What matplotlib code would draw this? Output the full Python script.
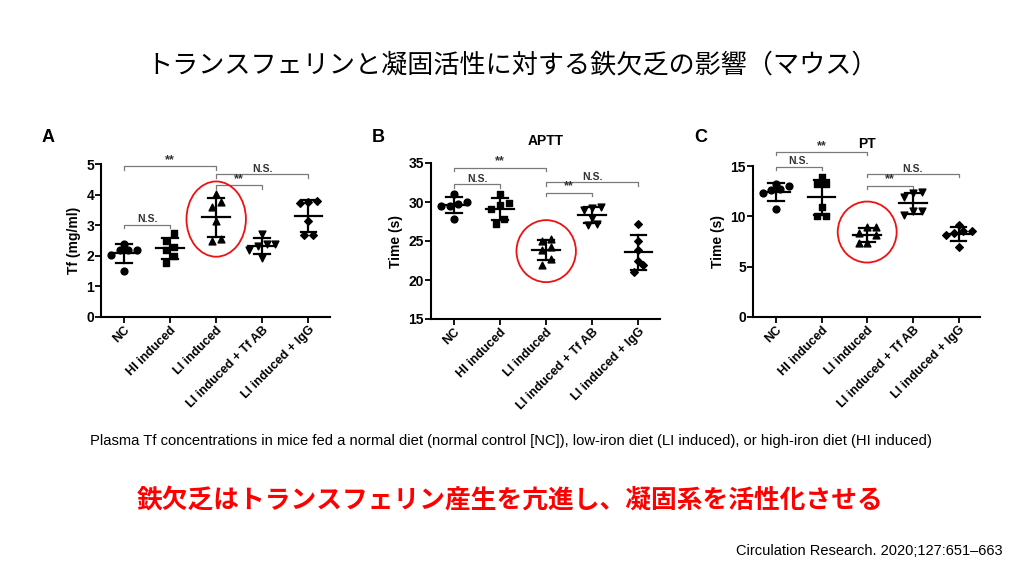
import matplotlib
matplotlib.use("Agg")
import matplotlib.pyplot as plt
import numpy as np
from matplotlib.patches import Ellipse

plt.rcParams['font.family'] = ['Liberation Sans', 'Noto Sans CJK JP', 'DejaVu Sans']

categories = ["NC", "HI induced", "LI induced", "LI induced + Tf AB", "LI induced + IgG"]
markers = ["o", "s", "^", "v", "D"]

tf_values = [
    [2.38, 2.2, 2.2, 2.2, 2.02, 1.5],
    [2.73, 2.5, 2.3, 2.2, 1.99, 1.78],
    [4.03, 3.76, 3.6, 3.13, 2.5, 2.54],
    [2.72, 2.38, 2.33, 2.38, 2.2, 1.93],
    [3.78, 3.77, 3.74, 3.15, 2.68, 2.68],
]
aptt_values = [
    [31.0, 30.0, 29.5, 29.5, 29.7, 27.8],
    [31.06, 29.66, 29.87, 29.15, 27.8, 27.15],
    [25.2, 24.26, 24.98, 23.83, 22.68, 21.9],
    [29.2, 29.0, 29.4, 28.0, 27.2, 27.0],
    [27.15, 25.0, 23.9, 22.47, 21.9, 20.98],
]
pt_values = [
    [13.2, 13.0, 12.7, 12.3, 12.6, 10.7],
    [13.95, 13.2, 13.2, 10.9, 10.05, 10.05],
    [8.95, 8.95, 8.3, 8.1, 7.4, 7.4],
    [12.3, 12.4, 11.9, 10.5, 10.5, 10.1],
    [9.1, 8.5, 8.5, 8.3, 8.1, 7.0],
]

# brackets: (i, j, y, label)
tf_brackets = [(0, 2, 4.92, "**"), (0, 1, 3.02, "N.S."), (2, 4, 4.66, "N.S."), (2, 3, 4.3, "**")]
aptt_brackets = [(0, 2, 34.38, "**"), (0, 1, 32.26, "N.S."), (2, 4, 32.55, "N.S."), (2, 3, 31.2, "**")]
pt_brackets = [(0, 2, 16.38, "**"), (0, 1, 14.93, "N.S."), (2, 4, 14.2, "N.S."), (2, 3, 13.03, "**")]

panels = [
    dict(vals=tf_values, ylim=(0, 5), yticks=[0, 1, 2, 3, 4, 5], ylabel="Tf (mg/ml)",
         br=tf_brackets, pos=[101, 164, 330, 317], letter="A", title=None,
         ell=(3.2, 2.46)),
    dict(vals=aptt_values, ylim=(15, 35), yticks=[15, 20, 25, 30, 35], ylabel="Time (s)",
         br=aptt_brackets, pos=[431, 163, 660, 319], letter="B", title="APTT",
         ell=(23.7, 7.95)),
    dict(vals=pt_values, ylim=(0, 15), yticks=[0, 5, 10, 15], ylabel="Time (s)",
         br=pt_brackets, pos=[753, 166, 980, 317], letter="C", title="PT",
         ell=(8.44, 6.06)),
]

W, H = 1024, 576
fig = plt.figure(figsize=(W / 100, H / 100), dpi=100)


def spread(vals, thr, step):
    vals = np.asarray(vals, float)
    order = np.argsort(vals)
    offs = np.zeros(len(vals))
    groups = []
    cur = [order[0]]
    for k in order[1:]:
        if vals[k] - vals[cur[0]] < thr:
            cur.append(k)
        else:
            groups.append(cur)
            cur = [k]
    groups.append(cur)
    for g in groups:
        n = len(g)
        for i, k in enumerate(g):
            offs[k] = (i - (n - 1) / 2) * step
    return offs


for p in panels:
    l, t, r, b = p["pos"]
    ax = fig.add_axes([l / W, 1 - b / H, (r - l) / W, (b - t) / H])
    y0, y1 = p["ylim"]
    thr = 0.05 * (y1 - y0)
    for i, v in enumerate(p["vals"]):
        v = np.asarray(v)
        offs = spread(v, thr, 0.19)
        ms = 24 if markers[i] != "D" else 15
        ax.scatter(i + offs, v, marker=markers[i], s=ms, color="black", zorder=3, clip_on=False)
        m = v.mean()
        sd = v.std(ddof=1)
        ax.plot([i - 0.3, i + 0.3], [m, m], color="black", lw=1.6, zorder=4)
        ax.plot([i, i], [m - sd, m + sd], color="black", lw=1.6, zorder=4)
        for yy in (m - sd, m + sd):
            ax.plot([i - 0.17, i + 0.17], [yy, yy], color="black", lw=1.6, zorder=4)
    ax.set_xlim(-0.5, 4.47)
    ax.set_ylim(y0, y1)
    ax.set_yticks(p["yticks"])
    ax.set_xticks(range(len(categories)))
    ax.set_xticklabels(categories, rotation=45, ha="right", rotation_mode="anchor",
                       fontsize=9, fontweight="bold")
    for lab in ax.get_yticklabels():
        lab.set_fontweight("bold")
        lab.set_fontsize(10)
    ax.spines["top"].set_visible(False)
    ax.spines["right"].set_visible(False)
    for s in ("left", "bottom"):
        ax.spines[s].set_linewidth(1.5)
    ax.tick_params(width=1.3, length=4, pad=1)
    ax.set_ylabel(p["ylabel"], fontsize=10, fontweight="bold", labelpad=4)
    ax.patch.set_alpha(0)

    dy = 0.022 * (y1 - y0)
    for (i, j, yb, lab) in p["br"]:
        ax.plot([i, i, j, j], [yb - dy, yb, yb, yb - dy], color="#7a7a7a", lw=0.9,
                clip_on=False, zorder=2)
        ax.text((i + j) / 2, yb + 0.1 * dy, lab, ha="center", va="bottom",
                fontsize=9 if lab == "**" else 7.5,
                fontweight="bold", color="#333333")

    cy, eh = p["ell"]
    ax.add_patch(Ellipse((2, cy), 1.29, eh, fill=False, edgecolor="#ee1111", lw=1.3,
                         clip_on=False, zorder=5))

    fig.text((l - 59) / W, 1 - 138 / H, p["letter"], fontsize=13, fontweight="bold",
             ha="left", va="center")
    if p["title"]:
        fig.text((l + r) / 2 / W, 1 - (t - 22) / H, p["title"], fontsize=10,
                 fontweight="bold", ha="center", va="center")

fig.text(0.5, 1 - 65 / H, "トランスフェリンと凝固活性に対する鉄欠乏の影響（マウス）",
         fontsize=18.8, ha="center", va="center", family=["Noto Sans CJK JP", "DejaVu Sans"])
fig.text(511 / W, 1 - 441 / H,
         "Plasma Tf concentrations in mice fed a normal diet (normal control [NC]), low-iron diet (LI induced), or high-iron diet (HI induced)",
         fontsize=10.6, ha="center", va="center")
fig.text(510 / W, 1 - 500 / H, "鉄欠乏はトランスフェリン産生を亢進し、凝固系を活性化させる",
         fontsize=18.5, fontweight="bold", color="#ff0000", ha="center", va="center",
         family=["Noto Sans CJK JP", "DejaVu Sans"])
fig.text(1003 / W, 1 - 551 / H, "Circulation Research. 2020;127:651–663",
         fontsize=10.5, ha="right", va="center")

fig.savefig("out.png", dpi=100)
